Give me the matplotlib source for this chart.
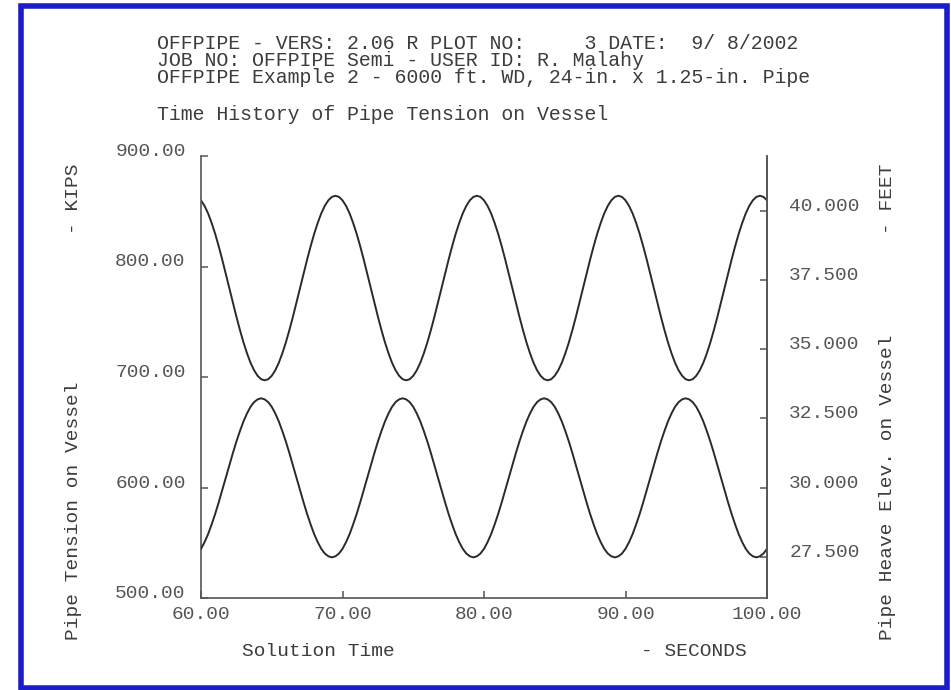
import numpy as np
from matplotlib import pyplot as plt
from matplotlib.patches import Rectangle

sample_time = np.linspace(60, 100, 161)
tension_kips = [
    859.9, 854.9, 848.1, 839.5, 829.6, 818.4, 806.3, 793.6, 780.5, 767.4,
    754.7, 742.6, 731.4, 721.5, 712.9, 706.1, 701.1, 698.0, 697.0, 698.0,
    701.1, 706.1, 712.9, 721.5, 731.4, 742.6, 754.7, 767.4, 780.5, 793.6,
    806.3, 818.4, 829.6, 839.5, 848.1, 854.9, 859.9, 863.0, 864.0, 863.0,
    859.9, 854.9, 848.1, 839.5, 829.6, 818.4, 806.3, 793.6, 780.5, 767.4,
    754.7, 742.6, 731.4, 721.5, 712.9, 706.1, 701.1, 698.0, 697.0, 698.0,
    701.1, 706.1, 712.9, 721.5, 731.4, 742.6, 754.7, 767.4, 780.5, 793.6,
    806.3, 818.4, 829.6, 839.5, 848.1, 854.9, 859.9, 863.0, 864.0, 863.0,
    859.9, 854.9, 848.1, 839.5, 829.6, 818.4, 806.3, 793.6, 780.5, 767.4,
    754.7, 742.6, 731.4, 721.5, 712.9, 706.1, 701.1, 698.0, 697.0, 698.0,
    701.1, 706.1, 712.9, 721.5, 731.4, 742.6, 754.7, 767.4, 780.5, 793.6,
    806.3, 818.4, 829.6, 839.5, 848.1, 854.9, 859.9, 863.0, 864.0, 863.0,
    859.9, 854.9, 848.1, 839.5, 829.6, 818.4, 806.3, 793.6, 780.5, 767.4,
    754.7, 742.6, 731.4, 721.5, 712.9, 706.1, 701.1, 698.0, 697.0, 698.0,
    701.1, 706.1, 712.9, 721.5, 731.4, 742.6, 754.7, 767.4, 780.5, 793.6,
    806.3, 818.4, 829.6, 839.5, 848.1, 854.9, 859.9, 863.0, 864.0, 863.0,
    859.9,
]
heave_feet = [
    27.78, 28.02, 28.31, 28.66, 29.04, 29.46, 29.90, 30.35, 30.80, 31.24,
    31.66, 32.04, 32.39, 32.68, 32.92, 33.09, 33.19, 33.23, 33.19, 33.09,
    32.92, 32.68, 32.39, 32.04, 31.66, 31.24, 30.80, 30.35, 29.90, 29.46,
    29.04, 28.66, 28.31, 28.02, 27.78, 27.61, 27.51, 27.47, 27.51, 27.61,
    27.78, 28.02, 28.31, 28.66, 29.04, 29.46, 29.90, 30.35, 30.80, 31.24,
    31.66, 32.04, 32.39, 32.68, 32.92, 33.09, 33.19, 33.23, 33.19, 33.09,
    32.92, 32.68, 32.39, 32.04, 31.66, 31.24, 30.80, 30.35, 29.90, 29.46,
    29.04, 28.66, 28.31, 28.02, 27.78, 27.61, 27.51, 27.47, 27.51, 27.61,
    27.78, 28.02, 28.31, 28.66, 29.04, 29.46, 29.90, 30.35, 30.80, 31.24,
    31.66, 32.04, 32.39, 32.68, 32.92, 33.09, 33.19, 33.23, 33.19, 33.09,
    32.92, 32.68, 32.39, 32.04, 31.66, 31.24, 30.80, 30.35, 29.90, 29.46,
    29.04, 28.66, 28.31, 28.02, 27.78, 27.61, 27.51, 27.47, 27.51, 27.61,
    27.78, 28.02, 28.31, 28.66, 29.04, 29.46, 29.90, 30.35, 30.80, 31.24,
    31.66, 32.04, 32.39, 32.68, 32.92, 33.09, 33.19, 33.23, 33.19, 33.09,
    32.92, 32.68, 32.39, 32.04, 31.66, 31.24, 30.80, 30.35, 29.90, 29.46,
    29.04, 28.66, 28.31, 28.02, 27.78, 27.61, 27.51, 27.47, 27.51, 27.61,
    27.78,
]
x_ticks = [60, 70, 80, 90, 100]
left_ticks = [500, 600, 700, 800, 900]
right_ticks = [27.5, 30.0, 32.5, 35.0, 37.5, 40.0]

header = [
    'OFFPIPE - VERS: 2.06 R PLOT NO:     3 DATE:  9/ 8/2002',
    'JOB NO: OFFPIPE Semi - USER ID: R. Malahy',
    'OFFPIPE Example 2 - 6000 ft. WD, 24-in. x 1.25-in. Pipe',
]
title = 'Time History of Pipe Tension on Vessel'

plt.rcParams['font.family'] = ['Liberation Mono', 'DejaVu Sans Mono']
fs = 14
hfs = 14.3
txt = '#3c3c3c'
axc = '#555555'

W, H = 951, 690
fig = plt.figure(figsize=(W / 100, H / 100), dpi=100)
fig.patch.set_facecolor('white')

ax = fig.add_axes([201 / W, 1 - 598 / H, 566 / W, 442 / H])
ax2 = ax.twinx()

ax.plot(sample_time, tension_kips, color='#2a2a2a', lw=1.4)
ax2.plot(sample_time, heave_feet, color='#2a2a2a', lw=1.4)

ax.set_xlim(60, 100)
ax.set_ylim(500, 900)
ax2.set_ylim(26, 42)

ax.set_xticks(x_ticks, [f'{v:.2f}' for v in x_ticks])
ax.set_yticks(left_ticks, [f'{v:.2f}' for v in left_ticks])
ax2.set_yticks(right_ticks, [f'{v:.3f}' for v in right_ticks])

for a in (ax, ax2):
    a.spines['top'].set_visible(False)
    for s in a.spines.values():
        s.set_color(axc)
        s.set_linewidth(1.2)
ax2.spines['left'].set_visible(False)
ax2.spines['bottom'].set_visible(False)

ax.tick_params(axis='x', direction='in', length=5, width=1.1, color=axc,
               labelcolor=axc, labelsize=fs, pad=6)
ax.tick_params(axis='y', direction='in', length=5, width=1.1, color=axc,
               labelcolor=axc, labelsize=fs, pad=11)
ax2.tick_params(axis='y', direction='in', length=5, width=1.1, color=axc,
                labelcolor=axc, labelsize=fs, pad=16)
for lbl in ax.get_yticklabels() + ax2.get_yticklabels():
    lbl.set_verticalalignment('baseline')

def px(x, y):
    return x / W, 1 - y / H

# header block as one multi-line text, tight line spacing like the plotter output
fig.text(*px(157, 60.5), '\n'.join(header), fontsize=hfs, color=txt, va='center',
         ha='left', multialignment='left', linespacing=0.86)
fig.text(*px(157, 114), title, fontsize=hfs, color=txt, va='center', ha='left')

fig.text(*px(242, 651), 'Solution Time', fontsize=fs, color=txt, va='center', ha='left')
fig.text(*px(747, 651), '- SECONDS', fontsize=fs, color=txt, va='center', ha='right')

fig.text(*px(73, 640), 'Pipe Tension on Vessel', fontsize=fs, color=txt, rotation=90,
         va='bottom', ha='center')
fig.text(*px(73, 163), '- KIPS', fontsize=fs, color=txt, rotation=90, va='top', ha='center')
fig.text(*px(887, 640), 'Pipe Heave Elev. on Vessel', fontsize=fs, color=txt, rotation=90,
         va='bottom', ha='center')
fig.text(*px(887, 163), '- FEET', fontsize=fs, color=txt, rotation=90, va='top', ha='center')

fig.patches.append(Rectangle((21 / W, 2 / H), 926 / W, 682 / H, transform=fig.transFigure,
                             fill=False, ec='#1c1cc8', lw=4))

fig.savefig('out.png', dpi=100)
